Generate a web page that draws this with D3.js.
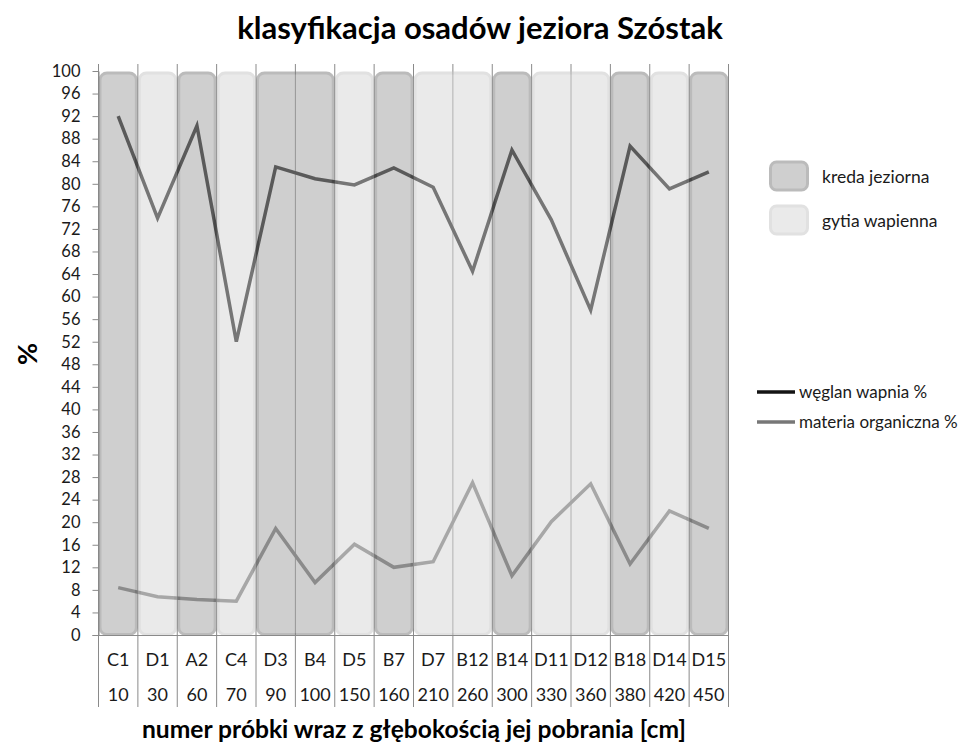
<!DOCTYPE html>
<html><head><meta charset="utf-8">
<script src="https://cdn.jsdelivr.net/npm/d3@7"></script>
<style>body{margin:0;background:#fff;} svg{display:block;}</style>
</head><body>
<svg id="c" width="974" height="750"></svg>
<script>
const samples = ["C1","D1","A2","C4","D3","B4","D5","B7","D7","B12","B14","D11","D12","B18","D14","D15"];
const depths = ["10","30","60","70","90","100","150","160","210","260","300","330","360","380","420","450"];
const sediment = ["k","g","k","g","k","k","g","k","g","g","k","g","g","k","g","k"]; // k = kreda jeziorna, g = gytia wapienna
const carbonate = [92.0,73.9,90.3,52.0,83.0,80.9,79.8,82.8,79.4,64.5,86.0,73.6,57.6,86.7,79.1,82.1];
const organic = [8.4,6.8,6.3,6.0,18.9,9.3,16.1,12.0,13.0,27.0,10.5,20.1,26.8,12.6,22.0,18.9];
const yTicks = d3.range(0,101,4);
const seriesNames = ["węglan wapnia %","materia organiczna %"];
const sedimentNames = {k:"kreda jeziorna", g:"gytia wapienna"};

const FONT = "Lato, 'Open Sans', sans-serif";
const svg = d3.select("#c");
const x = d3.scaleBand().domain(samples).range([98.5,728.5]).padding(0);
const y = d3.scaleLinear().domain([0,100]).range([635,71]);
const bw = x.bandwidth();

const barStyle = {
  k:{fill:"rgb(160,160,160)", stroke:"rgb(122,122,122)", op:0.5},
  g:{fill:"rgb(215,215,215)", stroke:"rgb(196,196,196)", op:0.5}
};

// vertical gridlines at category boundaries
const bounds = d3.range(samples.length+1).map(i => x.range()[0] + i*bw);
svg.append("g").selectAll("line").data(bounds).join("line")
  .attr("x1",d=>d).attr("x2",d=>d).attr("y1",64).attr("y2",707)
  .attr("stroke","#8a8a8a").attr("stroke-width",1);

// lines (drawn below translucent bars)
const line = d3.line().x((d,i)=>x(samples[i])+bw/2).y(d=>y(d));
svg.append("path").datum(organic).attr("d",line).attr("fill","none")
  .attr("stroke","#777").attr("stroke-width",3.5).attr("stroke-linejoin","miter");
svg.append("path").datum(carbonate).attr("d",line).attr("fill","none")
  .attr("stroke","#141414").attr("stroke-width",3.5).attr("stroke-linejoin","miter");

// runs of consecutive same sediment type
const runs = [];
sediment.forEach((t,i)=>{
  const last = runs[runs.length-1];
  if(last && last.type===t){ last.end=i; } else runs.push({type:t,start:i,end:i});
});
svg.append("g").selectAll("rect").data(runs).join("rect")
  .attr("x",d=>x(samples[d.start])+1.5)
  .attr("width",d=>(d.end-d.start+1)*bw-3)
  .attr("y",y(100)+2)
  .attr("height",y(0)-y(100)-2.5)
  .attr("rx",7).attr("ry",7)
  .attr("fill",d=>barStyle[d.type].fill)
  .attr("stroke",d=>barStyle[d.type].stroke)
  .attr("stroke-width",3)
  .attr("opacity",d=>barStyle[d.type].op);

// y axis
const yAxis = svg.append("g").attr("transform","translate(98.5,0)")
  .call(d3.axisLeft(y).tickValues(yTicks).tickSize(6).tickPadding(12).tickSizeOuter(0));
yAxis.select(".domain").attr("stroke","#8a8a8a");
yAxis.selectAll(".tick line").attr("stroke","#8a8a8a");
yAxis.selectAll("text").attr("font-family",FONT).attr("font-size",16.5).attr("fill","#1a1a1a");

// x axis line
svg.append("line").attr("x1",92.5).attr("x2",728.5).attr("y1",635.5).attr("y2",635.5)
  .attr("stroke","#8a8a8a");

// table labels
svg.append("g").selectAll("text").data(samples).join("text")
  .attr("x",d=>x(d)+bw/2).attr("y",660).attr("dy","0.35em")
  .attr("text-anchor","middle").attr("font-family",FONT).attr("font-size",18).attr("fill","#1a1a1a")
  .text(d=>d);
svg.append("g").selectAll("text").data(depths).join("text")
  .attr("x",(d,i)=>x(samples[i])+bw/2).attr("y",695).attr("dy","0.35em")
  .attr("text-anchor","middle").attr("font-family",FONT).attr("font-size",18).attr("fill","#1a1a1a")
  .text(d=>d);

// titles
svg.append("text").attr("x",480).attr("y",39).attr("text-anchor","middle")
  .attr("font-family",FONT).attr("font-weight","bold").attr("font-size",31).attr("fill","#000")
  .text("klasyfikacja osadów jeziora Szóstak");
svg.append("text").attr("x",414).attr("y",738).attr("text-anchor","middle")
  .attr("font-family",FONT).attr("font-weight","bold").attr("font-size",24.6).attr("fill","#000")
  .text("numer próbki wraz z głębokością jej pobrania [cm]");
svg.append("text").attr("transform","translate(37,354) rotate(-90)").attr("text-anchor","middle")
  .attr("font-family",FONT).attr("font-weight","bold").attr("font-size",27).attr("fill","#000")
  .text("%");

// legend: sediment boxes
const leg1 = svg.append("g").selectAll("g").data(["k","g"]).join("g")
  .attr("transform",(d,i)=>`translate(770,${162+i*44})`);
leg1.append("rect").attr("x",0.5).attr("y",0).attr("width",37).attr("height",28).attr("rx",6)
  .attr("fill",d=>barStyle[d].fill).attr("stroke",d=>barStyle[d].stroke).attr("stroke-width",3)
  .attr("opacity",d=>barStyle[d].op);
leg1.append("text").attr("x",52).attr("y",15).attr("dy","0.35em")
  .attr("font-family",FONT).attr("font-size",17.5).attr("fill","#1a1a1a").text(d=>sedimentNames[d]);

// legend: lines
const leg2 = svg.append("g").selectAll("g").data([{n:seriesNames[0],c:"#141414"},{n:seriesNames[1],c:"#777"}]).join("g")
  .attr("transform",(d,i)=>`translate(757,${392+i*30})`);
leg2.append("line").attr("x1",0).attr("x2",38).attr("stroke",d=>d.c).attr("stroke-width",3.5);
leg2.append("text").attr("x",42).attr("y",0).attr("dy","0.35em")
  .attr("font-family",FONT).attr("font-size",17).attr("fill","#1a1a1a").text(d=>d.n);
</script>
</body></html>
